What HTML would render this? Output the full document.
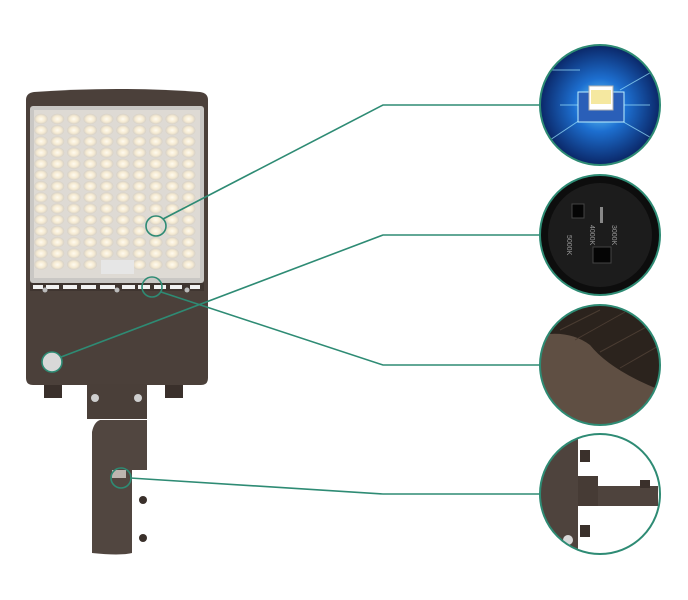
<!DOCTYPE html>
<html><head><meta charset="utf-8"><style>
html,body{margin:0;padding:0;background:#fff;}
svg{display:block;}
</style></head><body>
<svg width="688" height="600" viewBox="0 0 688 600" xmlns="http://www.w3.org/2000/svg">
<defs>
<radialGradient id="led" cx="50%" cy="50%" r="50%">
<stop offset="0" stop-color="#fffbf0"/><stop offset="0.6" stop-color="#f5ead2"/><stop offset="1" stop-color="#d6d0c6"/>
</radialGradient>
<radialGradient id="blue" cx="50%" cy="50%" r="55%">
<stop offset="0" stop-color="#6fd8ff"/><stop offset="0.4" stop-color="#1d6fd0"/><stop offset="1" stop-color="#071a55"/>
</radialGradient>
<clipPath id="c1"><circle cx="600" cy="105" r="60"/></clipPath>
<clipPath id="c3"><circle cx="600" cy="365" r="60"/></clipPath>
<clipPath id="c4"><circle cx="600" cy="494" r="60"/></clipPath>
</defs>

<path d="M26 100 Q26 93 34 92 Q117 86 200 92 Q208 93 208 100 L208 378 Q208 385 201 385 L33 385 Q26 385 26 378 Z" fill="#4b403a"/>
<rect x="30" y="106" width="174" height="177" rx="3" fill="#c9c7c4"/>
<rect x="34" y="110" width="166" height="168" fill="#dedad4"/>
<g id="leds"></g>
<rect x="101" y="260" width="33" height="14" fill="#e6e6e6"/>
<rect x="30" y="283" width="174" height="8" fill="#3f3530"/>
<g fill="#f2f2f2">
<rect x="33" y="285" width="10" height="4"/><rect x="46" y="285" width="13" height="4"/><rect x="63" y="285" width="14" height="4"/>
<rect x="81" y="285" width="15" height="4"/><rect x="100" y="285" width="15" height="4"/><rect x="122" y="285" width="13" height="4"/>
<rect x="138" y="285" width="12" height="4"/><rect x="154" y="285" width="12" height="4"/><rect x="170" y="285" width="12" height="4"/><rect x="190" y="285" width="10" height="4"/>
</g>
<circle cx="45" cy="290" r="2.5" fill="#bbb"/><circle cx="117" cy="290" r="2.5" fill="#bbb"/><circle cx="187" cy="290" r="2.5" fill="#bbb"/>
<rect x="44" y="385" width="18" height="13" fill="#3a302b"/><rect x="165" y="385" width="18" height="13" fill="#3a302b"/>
<rect x="87" y="384" width="60" height="35" fill="#4a3f39"/>
<circle cx="95" cy="398" r="4" fill="#cfcfcf"/><circle cx="138" cy="398" r="4" fill="#cfcfcf"/>
<path d="M100 420 L147 420 L147 470 L132 470 L132 553 Q120 556 92 553 L92 432 Q94 422 100 420 Z" fill="#514640"/>
<rect x="112" y="470" width="14" height="8" fill="#bdb6b0"/>
<circle cx="143" cy="500" r="4" fill="#3a302b"/><circle cx="143" cy="538" r="4" fill="#3a302b"/>
<circle cx="52" cy="362" r="10" fill="#d8d8d8"/>

<g stroke="#2e8b74" stroke-width="1.6" fill="none">
<polyline points="163,219 383,105 540,105"/>
<polyline points="61,357 383,235 540,235"/>
<polyline points="161,292 383,365 540,365"/>
<polyline points="130,478 383,494 540,494"/>
<circle cx="156" cy="226" r="10"/>
<circle cx="152" cy="287" r="10"/>
<circle cx="52" cy="362" r="10"/>
<circle cx="121" cy="478" r="10"/>
</g>

<g clip-path="url(#c1)">
<rect x="540" y="45" width="120" height="120" fill="url(#blue)"/>
<path d="M545 70 L580 70 M550 140 L580 120 M620 120 L655 140 M620 90 L655 70 M560 105 L585 105 M615 105 L650 105" stroke="#9fe6ff" stroke-width="1" opacity="0.7"/>
<rect x="578" y="92" width="46" height="30" fill="#2a5fb8" stroke="#bdf0ff"/>
<rect x="589" y="86" width="24" height="24" fill="#ffffff" stroke="#b0b0b0"/>
<rect x="591" y="90" width="20" height="14" fill="#f5e8a0"/>
</g>
<circle cx="600" cy="105" r="60" fill="none" stroke="#2e8b74" stroke-width="2"/>

<circle cx="600" cy="235" r="60" fill="#0d0d0d" stroke="#2e8b74" stroke-width="2"/>
<circle cx="600" cy="235" r="52" fill="#1c1c1c"/>
<rect x="572" y="204" width="12" height="14" fill="#050505" stroke="#444"/>
<rect x="593" y="247" width="18" height="16" fill="#050505" stroke="#444"/>
<rect x="600" y="207" width="3" height="16" fill="#888"/>
<text x="612" y="225" fill="#999" font-family="Liberation Sans, sans-serif" font-size="7" transform="rotate(90 612 225)">3000K</text>
<text x="590" y="225" fill="#999" font-family="Liberation Sans, sans-serif" font-size="7" transform="rotate(90 590 225)">4000K</text>
<text x="567" y="235" fill="#999" font-family="Liberation Sans, sans-serif" font-size="7" transform="rotate(90 567 235)">5000K</text>

<g clip-path="url(#c3)">
<rect x="540" y="305" width="120" height="120" fill="#5f4f43"/>
<path d="M540 305 L660 305 L660 390 Q610 370 590 345 Q570 330 540 335 Z" fill="#2b231d"/>
<path d="M560 330 L600 310 M575 340 L625 312 M600 352 L650 325 M620 368 L660 345" stroke="#4a3c32" stroke-width="1"/>
</g>
<circle cx="600" cy="365" r="60" fill="none" stroke="#2e8b74" stroke-width="2"/>

<g clip-path="url(#c4)">
<rect x="540" y="434" width="120" height="120" fill="#ffffff"/>
<rect x="540" y="434" width="38" height="120" fill="#4e433d"/>
<rect x="578" y="476" width="20" height="30" fill="#463b35"/>
<rect x="598" y="486" width="60" height="20" fill="#4e433d"/>
<rect x="580" y="450" width="10" height="12" fill="#3a302b"/>
<rect x="580" y="525" width="10" height="12" fill="#3a302b"/>
<circle cx="568" cy="540" r="5" fill="#d8d8d8"/>
<rect x="640" y="480" width="10" height="8" fill="#3a302b"/>
</g>
<circle cx="600" cy="494" r="60" fill="none" stroke="#2e8b74" stroke-width="2"/>
</svg>
<script>
(function(){var g=document.getElementById('leds'),s='';
for(var r=0;r<14;r++)for(var c=0;c<10;c++){if(r==13&&(c==4||c==5))continue;var x=41+c*16.4,y=119+r*11.2;s+='<ellipse cx="'+x+'" cy="'+y+'" rx="6.8" ry="5.2" fill="url(#led)"/>';}
g.innerHTML=s;})();
</script>
</body></html>
